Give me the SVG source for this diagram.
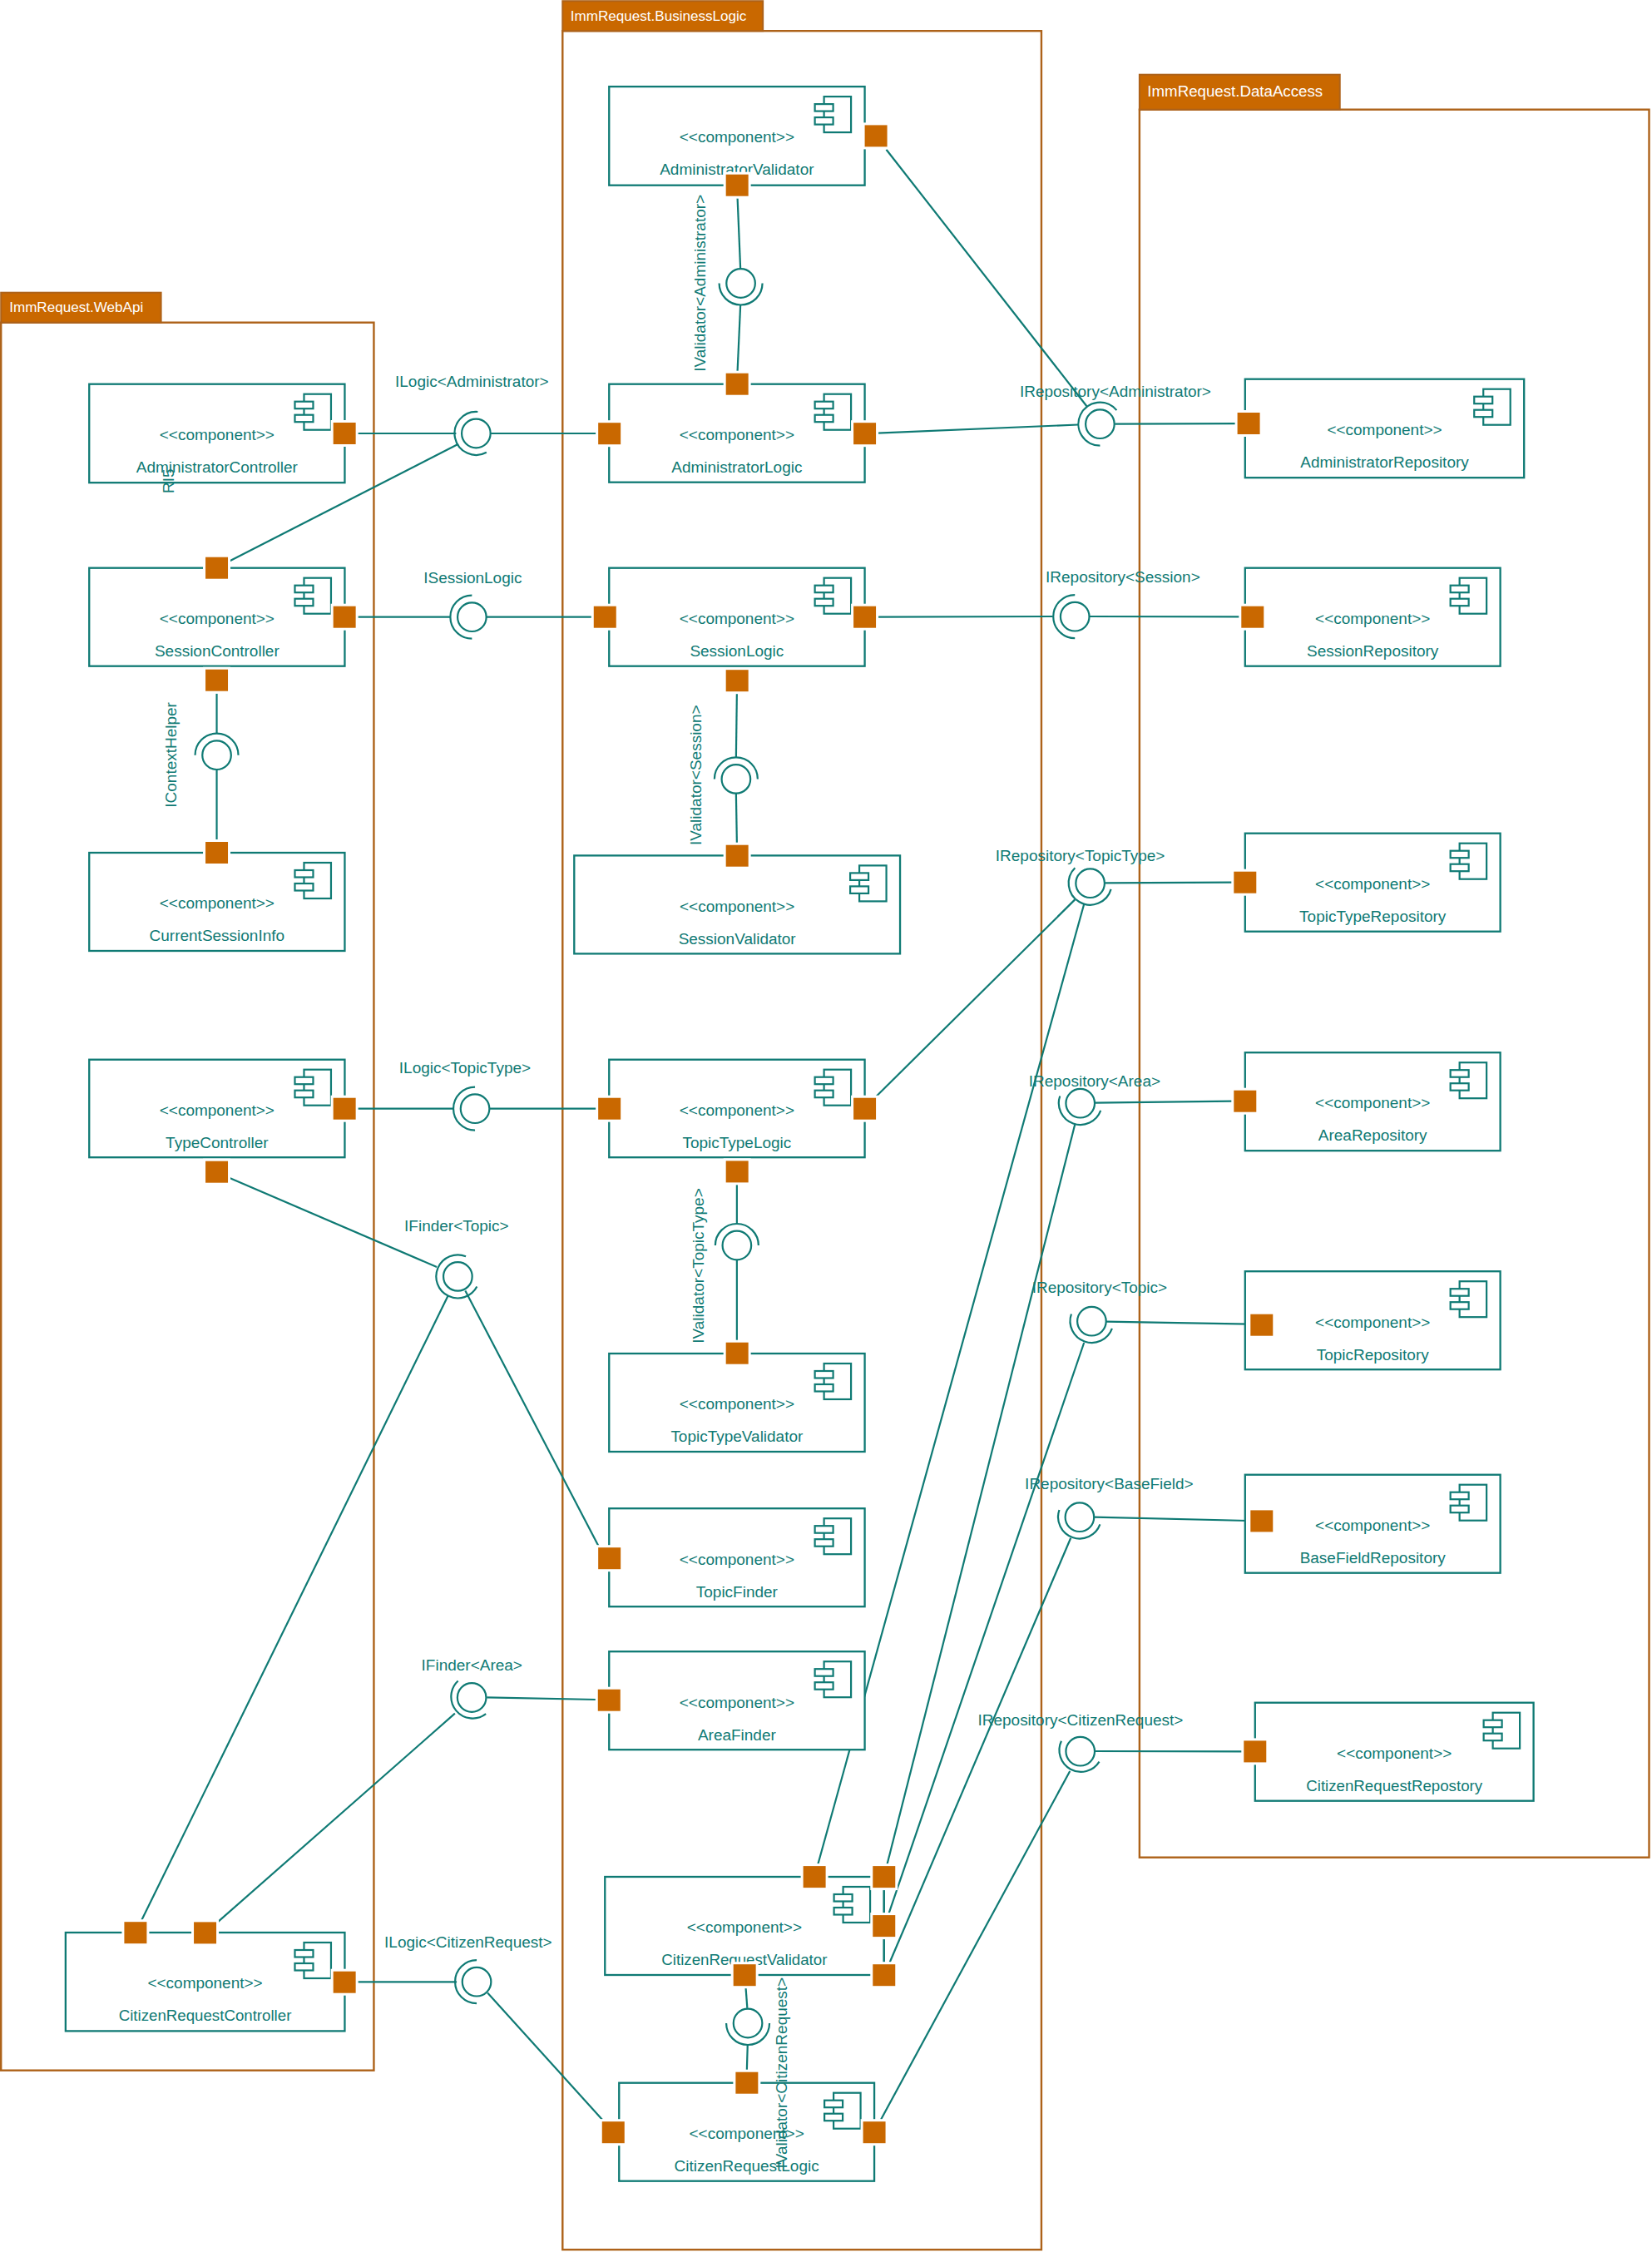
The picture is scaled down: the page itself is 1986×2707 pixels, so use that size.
<svg xmlns="http://www.w3.org/2000/svg" width="1986" height="2707" viewBox="0 0 1986 2707">
<style>
text{font-family:"Liberation Sans",Arial,sans-serif;font-size:19px;fill:#0f7a74}
.m{text-anchor:middle}
.tab{fill:#c96800;stroke:#ad6219;stroke-width:2}
.tt{fill:#fff;font-size:17.1px}
.fr{fill:none;stroke:#ad6219;stroke-width:2.4}
.c{fill:#fff;stroke:#0f7a74;stroke-width:2.3}
.ic{fill:#fff;stroke:#0f7a74;stroke-width:2.2}
.l{fill:none;stroke:#0f7a74;stroke-width:2.2}
.b{fill:#fff;stroke:#0f7a74;stroke-width:2.2}
.p{fill:#c96800;stroke:#fff;stroke-width:3}
</style>
<defs>
<g id="icon"><rect class="ic" x="-49" y="12" width="32.5" height="43"/><rect class="ic" x="-60" y="21" width="22" height="8.5"/><rect class="ic" x="-60" y="37" width="22" height="8.5"/></g>
<rect id="port" class="p" x="-15" y="-14.5" width="30" height="29"/>
<circle id="ball" class="b" r="17.3"/>
<path id="sockL" class="l" d="M0 -26A26 26 0 0 0 0 26"/>
<path id="sockU" class="l" d="M-26 0A26 26 0 0 1 26 0"/>
<path id="sockD" class="l" d="M-26 0A26 26 0 0 0 26 0"/>
<path id="sockS" class="l" d="M-24.5 -8.7A26 26 0 0 0 24.5 8.7"/>
</defs>
<g transform="translate(-.3 -.3) scale(.9994 1)">
<g id="frames">
<g id="pkg-webapi"><rect class="fr" x="1.5" y="388" width="448.5" height="2101"/><rect class="tab" x="1.5" y="352" width="192.5" height="36"/><text class="tt" x="11.5" y="375">ImmRequest.WebApi</text></g>
<g id="pkg-businesslogic"><rect class="fr" x="677" y="37.5" width="576" height="2667"/><rect class="tab" x="677" y="1.5" width="241" height="36"/><text class="tt" x="686.5" y="25">ImmRequest.BusinessLogic</text></g>
<g id="pkg-dataaccess"><rect class="fr" x="1371" y="132" width="613" height="2101"/><rect class="tab" x="1371" y="90" width="241" height="42"/><text class="tt" x="1380.5" y="116.5" style="font-size:18.7px">ImmRequest.DataAccess</text></g>
</g>

<g id="connectors">
<path class="l" d="M430.4 521.3H549"/>
<path class="l" d="M590.8 521.3H717.4"/>
<path class="l" d="M276.3 674.8L551.6 534"/>
<path class="l" d="M430 742H542"/>
<path class="l" d="M585.5 742H712.5"/>
<path class="l" d="M261 834V882"/>
<path class="l" d="M261 924V1009.6"/>
<path class="l" d="M887.4 238L891 324"/>
<path class="l" d="M891 366.5L887.4 446.8"/>
<path class="l" d="M1066.4 180L1307.5 488.5"/>
<path class="l" d="M1055.7 521L1297.2 510.8"/>
<path class="l" d="M1341.4 510L1487.2 509.5"/>
<path class="l" d="M1056 742L1266.7 741.3"/>
<path class="l" d="M1310.7 741.3L1491.7 741.7"/>
<path class="l" d="M886.7 833.3L885.7 910.7"/>
<path class="l" d="M885.7 954L886.7 1013.3"/>
<path class="l" d="M1054.5 1318L1293.3 1081.7"/>
<path class="l" d="M1329.5 1061.6L1482.7 1061"/>
<path class="l" d="M430 1333H545.5"/>
<path class="l" d="M589 1333H717.5"/>
<path class="l" d="M886.7 1424V1471.7"/>
<path class="l" d="M886.7 1515V1611.7"/>
<path class="l" d="M276 1416L525.7 1523.3"/>
<path class="l" d="M560 1551.7L722 1862"/>
<path class="l" d="M539 1558.3L170.7 2308.3"/>
<path class="l" d="M585.9 2040.7L718.5 2043.3"/>
<path class="l" d="M547.5 2060L262.2 2310.7"/>
<path class="l" d="M430.5 2382.7H549.7"/>
<path class="l" d="M586.8 2395.7L724.6 2548"/>
<path class="l" d="M1317.3 1326L1482.7 1324"/>
<path class="l" d="M1331 1589L1502.7 1592"/>
<path class="l" d="M1316.7 1824L1502.7 1828.3"/>
<path class="l" d="M1317.3 2105.3L1495 2105.7"/>
<path class="l" d="M984.4 2240.5L1304.3 1087"/>
<path class="l" d="M1067.5 2241L1293.3 1352"/>
<path class="l" d="M1069.7 2299.6L1304.3 1614.3"/>
<path class="l" d="M1070.6 2359L1288.3 1849"/>
<path class="l" d="M1060 2548L1287.3 2129.3"/>
<path class="l" d="M1063.7 2271V2300"/>
<path class="l" d="M1063.7 2330V2359"/>
<path class="l" d="M897.4 2390L899.2 2414.2"/>
<path class="l" d="M899.6 2458L898.7 2488.4"/>
</g>

<g id="AdministratorController"><rect class="c" x="107.6" y="462" width="307.4" height="118.5"/><use href="#icon" transform="translate(415 462)"/><text class="m" x="261.3" y="529.5">&lt;&lt;component&gt;&gt;</text><text class="m" x="261.3" y="568.5">AdministratorController</text><text class="m" transform="translate(209 578.5) rotate(-90)">RI5</text><use href="#port" x="414.7" y="521.3"/></g>
<g id="SessionController"><rect class="c" x="107.6" y="683" width="307.4" height="118"/><use href="#icon" transform="translate(415 683)"/><text class="m" x="261.3" y="750.5">&lt;&lt;component&gt;&gt;</text><text class="m" x="261.3" y="789">SessionController</text><use href="#port" x="261" y="683"/><use href="#port" x="414.7" y="742"/><use href="#port" x="261" y="818"/></g>
<g id="CurrentSessionInfo"><rect class="c" x="107.6" y="1025.3" width="307.4" height="118"/><use href="#icon" transform="translate(415 1025.3)"/><text class="m" x="261.3" y="1092.5">&lt;&lt;component&gt;&gt;</text><text class="m" x="261.3" y="1131.5">CurrentSessionInfo</text><use href="#port" x="261" y="1025.3"/></g>
<g id="TypeController"><rect class="c" x="107.6" y="1274" width="307.4" height="117.5"/><use href="#icon" transform="translate(415 1274)"/><text class="m" x="261.3" y="1341">&lt;&lt;component&gt;&gt;</text><text class="m" x="261.3" y="1380">TypeController</text><use href="#port" x="414.7" y="1333"/><use href="#port" x="261" y="1409"/></g>
<g id="CitizenRequestController"><rect class="c" x="79.2" y="2323.3" width="335.8" height="118.4"/><use href="#icon" transform="translate(415 2323.3)"/><text class="m" x="247" y="2390.5">&lt;&lt;component&gt;&gt;</text><text class="m" x="247" y="2429.5" style="font-size:18.7px">CitizenRequestController</text><use href="#port" x="163.3" y="2323.5"/><use href="#port" x="247" y="2323.7"/><use href="#port" x="414.7" y="2383"/></g>

<g id="AdministratorValidator"><rect class="c" x="733" y="104.4" width="307.5" height="118.6"/><use href="#icon" transform="translate(1040.5 104.4)"/><text class="m" x="886.7" y="171.5">&lt;&lt;component&gt;&gt;</text><text class="m" x="886.7" y="210.5">AdministratorValidator</text><use href="#port" x="1054" y="163.7"/><use href="#port" x="887" y="223"/></g>
<g id="AdministratorLogic"><rect class="c" x="733" y="462" width="307.5" height="118"/><use href="#icon" transform="translate(1040.5 462)"/><text class="m" x="886.7" y="529.5">&lt;&lt;component&gt;&gt;</text><text class="m" x="886.7" y="568.5">AdministratorLogic</text><use href="#port" x="887" y="462"/><use href="#port" x="733.4" y="521.5"/><use href="#port" x="1040.5" y="521.5"/></g>
<g id="SessionLogic"><rect class="c" x="733" y="683" width="307.5" height="118"/><use href="#icon" transform="translate(1040.5 683)"/><text class="m" x="886.7" y="750.5">&lt;&lt;component&gt;&gt;</text><text class="m" x="886.7" y="789">SessionLogic</text><use href="#port" x="728" y="742"/><use href="#port" x="1040.5" y="742"/><use href="#port" x="887" y="818.5"/></g>
<g id="SessionValidator"><rect class="c" x="691" y="1028.7" width="392" height="118"/><use href="#icon" transform="translate(1083 1028.7)"/><text class="m" x="887" y="1096">&lt;&lt;component&gt;&gt;</text><text class="m" x="887" y="1135">SessionValidator</text><use href="#port" x="887" y="1029"/></g>
<g id="TopicTypeLogic"><rect class="c" x="733" y="1274" width="307.5" height="117.5"/><use href="#icon" transform="translate(1040.5 1274)"/><text class="m" x="886.7" y="1341">&lt;&lt;component&gt;&gt;</text><text class="m" x="886.7" y="1380">TopicTypeLogic</text><use href="#port" x="733.4" y="1333"/><use href="#port" x="1040.5" y="1333"/><use href="#port" x="887" y="1408.7"/></g>
<g id="TopicTypeValidator"><rect class="c" x="733" y="1627.3" width="307.5" height="118"/><use href="#icon" transform="translate(1040.5 1627.3)"/><text class="m" x="886.7" y="1694.5">&lt;&lt;component&gt;&gt;</text><text class="m" x="886.7" y="1733.5">TopicTypeValidator</text><use href="#port" x="887" y="1627"/></g>
<g id="TopicFinder"><rect class="c" x="733" y="1813.5" width="307.5" height="118"/><use href="#icon" transform="translate(1040.5 1813.5)"/><text class="m" x="886.7" y="1881">&lt;&lt;component&gt;&gt;</text><text class="m" x="886.7" y="1920">TopicFinder</text><use href="#port" x="733.4" y="1873.5"/></g>
<g id="AreaFinder"><rect class="c" x="733" y="1985.5" width="307.5" height="118"/><use href="#icon" transform="translate(1040.5 1985.5)"/><text class="m" x="886.7" y="2053">&lt;&lt;component&gt;&gt;</text><text class="m" x="886.7" y="2092">AreaFinder</text><use href="#port" x="733" y="2044"/></g>
<g id="CitizenRequestValidator"><rect class="c" x="728" y="2256.3" width="335.5" height="118"/><use href="#icon" transform="translate(1063.5 2256.3)"/><text class="m" x="895.7" y="2323.5">&lt;&lt;component&gt;&gt;</text><text class="m" x="895.7" y="2362.5" style="font-size:18.7px">CitizenRequestValidator</text><use href="#port" x="980" y="2256.4"/><use href="#port" x="1063.7" y="2256.4"/><use href="#port" x="1063.7" y="2315.4"/><use href="#port" x="1063.7" y="2374.5"/><use href="#port" x="896" y="2374.5"/></g>
<g id="CitizenRequestLogic"><rect class="c" x="745" y="2504" width="307" height="118"/><use href="#icon" transform="translate(1052 2504)"/><text class="m" x="898.5" y="2571.5">&lt;&lt;component&gt;&gt;</text><text class="m" x="898.5" y="2610.5">CitizenRequestLogic</text><use href="#port" x="898.7" y="2504"/><use href="#port" x="738" y="2563.5"/><use href="#port" x="1052" y="2563.5"/></g>

<g id="AdministratorRepository"><rect class="c" x="1498" y="456" width="335.6" height="118.5"/><use href="#icon" transform="translate(1833.6 456)"/><text class="m" x="1665.8" y="523.5">&lt;&lt;component&gt;&gt;</text><text class="m" x="1665.8" y="562.5">AdministratorRepository</text><use href="#port" x="1502.3" y="509.3"/></g>
<g id="SessionRepository"><rect class="c" x="1498" y="683" width="307" height="118"/><use href="#icon" transform="translate(1805 683)"/><text class="m" x="1651.5" y="750.5">&lt;&lt;component&gt;&gt;</text><text class="m" x="1651.5" y="789">SessionRepository</text><use href="#port" x="1507" y="742"/></g>
<g id="TopicTypeRepository"><rect class="c" x="1498" y="1002" width="307" height="118"/><use href="#icon" transform="translate(1805 1002)"/><text class="m" x="1651.5" y="1069.5">&lt;&lt;component&gt;&gt;</text><text class="m" x="1651.5" y="1108.5">TopicTypeRepository</text><use href="#port" x="1498" y="1061"/></g>
<g id="AreaRepository"><rect class="c" x="1498" y="1265.5" width="307" height="118"/><use href="#icon" transform="translate(1805 1265.5)"/><text class="m" x="1651.5" y="1332.5">&lt;&lt;component&gt;&gt;</text><text class="m" x="1651.5" y="1371.5">AreaRepository</text><use href="#port" x="1498" y="1324"/></g>
<g id="TopicRepository"><rect class="c" x="1498" y="1528.5" width="307" height="118"/><use href="#icon" transform="translate(1805 1528.5)"/><text class="m" x="1651.5" y="1596">&lt;&lt;component&gt;&gt;</text><text class="m" x="1651.5" y="1635">TopicRepository</text><use href="#port" x="1518" y="1593"/></g>
<g id="BaseFieldRepository"><rect class="c" x="1498" y="1773" width="307" height="118"/><use href="#icon" transform="translate(1805 1773)"/><text class="m" x="1651.5" y="1840.5">&lt;&lt;component&gt;&gt;</text><text class="m" x="1651.5" y="1879.5">BaseFieldRepository</text><use href="#port" x="1518" y="1828.7"/></g>
<g id="CitizenRequestRepostory"><rect class="c" x="1510" y="2047" width="335" height="118"/><use href="#icon" transform="translate(1845 2047)"/><text class="m" x="1677.5" y="2114.5">&lt;&lt;component&gt;&gt;</text><text class="m" x="1677.5" y="2153.5" style="font-size:18.7px">CitizenRequestRepostory</text><use href="#port" x="1510" y="2105.7"/></g>

<g id="i-ILogicAdministrator"><g transform="translate(573 521.3)"><use href="#ball"/><path class="l" d="M2 -26A26 26 0 1 0 12.5 22.8"/></g><text class="m" x="568" y="465">ILogic&lt;Administrator&gt;</text></g>
<g id="i-ISessionLogic"><g transform="translate(568 742)"><use href="#ball"/><use href="#sockL"/></g><text class="m" x="569" y="701">ISessionLogic</text></g>
<g id="i-IContextHelper"><g transform="translate(261 908)"><use href="#ball"/><use href="#sockU"/></g><text class="m" transform="translate(212.5 907.7) rotate(-90)">IContextHelper</text></g>
<g id="i-IValidatorAdministrator"><g transform="translate(891.4 340.8)"><use href="#ball"/><use href="#sockD"/></g><text class="m" transform="translate(848.5 340.6) rotate(-90)">IValidator&lt;Administrator&gt;</text></g>
<g id="i-IRepositoryAdministrator"><g transform="translate(1323.5 510)"><use href="#ball"/><path class="l" d="M20 -16.6A26 26 0 1 0 0 26"/></g><text class="m" x="1342" y="477">IRepository&lt;Administrator&gt;</text></g>
<g id="i-IValidatorSession"><g transform="translate(885.7 936.7)"><use href="#ball"/><use href="#sockU"/></g><text class="m" transform="translate(844 932) rotate(-90)">IValidator&lt;Session&gt;</text></g>
<g id="i-IRepositorySession"><g transform="translate(1293.3 741.5)"><use href="#ball"/><use href="#sockL"/></g><text class="m" x="1351" y="700.7">IRepository&lt;Session&gt;</text></g>
<g id="i-IRepositoryTopicType"><g transform="translate(1311.7 1062)"><use href="#ball"/><path class="l" d="M-18.3 -18.5A26 26 0 1 0 25 7.2"/></g><text class="m" x="1299.7" y="1035">IRepository&lt;TopicType&gt;</text></g>
<g id="i-ILogicTopicType"><g transform="translate(571.7 1333)"><use href="#ball"/><use href="#sockL"/></g><text class="m" x="559.6" y="1290.5">ILogic&lt;TopicType&gt;</text></g>
<g id="i-IValidatorTopicType"><g transform="translate(886.7 1497.3)"><use href="#ball"/><use href="#sockU"/></g><text class="m" transform="translate(847 1521.8) rotate(-90)">IValidator&lt;TopicType&gt;</text></g>
<g id="i-IFinderTopic"><g transform="translate(551 1534.7)"><use href="#ball"/><path class="l" d="M9.7 -24.1A26 26 0 1 0 23 12.1"/></g><text class="m" x="549.5" y="1480">IFinder&lt;Topic&gt;</text></g>
<g id="i-IRepositoryArea"><g transform="translate(1299.8 1326.5)"><use href="#ball"/><use href="#sockS"/></g><text class="m" x="1317" y="1306">IRepository&lt;Area&gt;</text></g>
<g id="i-IRepositoryTopic"><g transform="translate(1313.5 1588.5)"><use href="#ball"/><use href="#sockS"/></g><text class="m" x="1323" y="1554">IRepository&lt;Topic&gt;</text></g>
<g id="i-IRepositoryBaseField"><g transform="translate(1299 1824)"><use href="#ball"/><use href="#sockS"/></g><text class="m" x="1334.5" y="1790">IRepository&lt;BaseField&gt;</text></g>
<g id="i-IFinderArea"><g transform="translate(567.8 2040.8)"><use href="#ball"/><path class="l" d="M-16.5 -20A26 26 0 0 0 17 19.7"/></g><text class="m" x="567.9" y="2008">IFinder&lt;Area&gt;</text></g>
<g id="i-IRepositoryCitizenRequest"><g transform="translate(1299.8 2105.5)"><use href="#ball"/><path class="l" d="M-22.8 -12.4A26 26 0 0 0 22.8 12.4"/></g><text class="m" x="1300" y="2074">IRepository&lt;CitizenRequest&gt;</text></g>
<g id="i-ILogicCitizenRequest"><g transform="translate(573.7 2382.5)"><use href="#ball"/><use href="#sockL"/></g><text class="m" x="563.5" y="2341">ILogic&lt;CitizenRequest&gt;</text></g>
<g id="i-IValidatorCitizenRequest"><g transform="translate(899.9 2432.3)"><use href="#ball"/><use href="#sockD"/></g><text class="m" transform="translate(946.5 2492) rotate(-90)">IValidator&lt;CitizenRequest&gt;</text></g>
</g>
</svg>
